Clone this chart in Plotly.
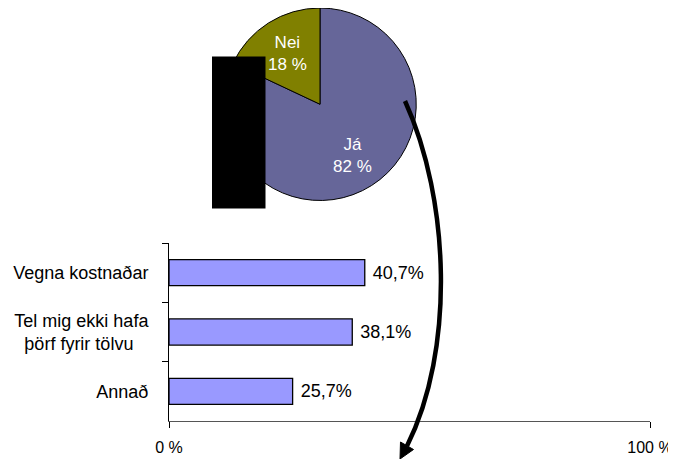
import math
import plotly.graph_objects as go

# The page body adds an 8px offset, so the figure is sized to fill the rest of the window.
OX, OY = 8, 8
W, H = 676 - OX, 459 - OY

# ---- data ----
pie_labels = ["Já", "Nei"]
pie_values = [82, 18]
pie_colors = ["#666699", "#808000"]

bar_categories = ["Vegna kostnaðar", "Tel mig ekki hafa<br>þörf fyrir tölvu\u00a0\u00a0\u00a0", "Annað"]
bar_values = [40.7, 38.1, 25.7]
x_tickvals = [0, 100]
x_ticktext = ["0 %", "100 %"]

FONT = "Arial, Liberation Sans, sans-serif"


def px(x, y):
    """window pixel -> paper fraction (clamped)"""
    a = min(max((x - OX) / W, 0), 1)
    b = min(max(1 - (y - OY) / H, 0), 1)
    return a, b


def pt(x, y):
    a, b = px(x, y)
    return f"{a:.5f},{b:.5f}"


fig = go.Figure()

PIE_L, PIE_R, PIE_T, PIE_B = 223, 417, 8, 200.5
pl, pb = px(PIE_L, PIE_B)
pr, ptop = px(PIE_R, PIE_T)
fig.add_trace(go.Pie(
    labels=pie_labels,
    values=pie_values,
    sort=False,
    direction="clockwise",
    rotation=0,
    marker=dict(colors=pie_colors, line=dict(color="#000000", width=1)),
    textinfo="none",
    domain=dict(x=[pl, pr], y=[pb, ptop]),
    showlegend=False,
    hoverinfo="skip",
))

# pie slice labels, placed along each slice's mid-angle (derived from the values)
cx, cy = (PIE_L + PIE_R) / 2, (PIE_T + PIE_B) / 2
R = min(PIE_R - PIE_L, PIE_B - PIE_T) / 2
total = sum(pie_values)
acc = 0
annotations = []
for lab, val in zip(pie_labels, pie_values):
    mid = (acc + val / 2) / total * 2 * math.pi
    acc += val
    tx = cx + 0.63 * R * math.sin(mid)
    ty = cy - 0.63 * R * math.cos(mid)
    ax_, ay_ = px(tx, ty)
    annotations.append(dict(
        x=ax_, y=ay_, xref="paper", yref="paper",
        text=f"{lab}<br>{val} %", showarrow=False,
        xanchor="center", yanchor="middle",
        font=dict(color="white", size=17, family=FONT),
    ))

fig.add_trace(go.Bar(
    y=bar_categories,
    x=bar_values,
    orientation="h",
    width=0.44,
    marker=dict(color="#9999FF", line=dict(color="#000000", width=1.3)),
    texttemplate=" %{x:.1f}%",
    textposition="outside",
    textfont=dict(color="black", size=18, family=FONT),
    cliponaxis=False,
    showlegend=False,
    hoverinfo="skip",
))

x0, y1 = px(169, 421)
x1, y0 = px(650, 243)

rx0, ry0 = px(212, 208.5)
rx1, ry1 = px(265.5, 56.5)

fig.update_layout(
    template="none",
    width=W, height=H,
    autosize=False,
    margin=dict(l=0, r=0, t=0, b=0, pad=0),
    paper_bgcolor="white",
    plot_bgcolor="white",
    separators=",.",
    font=dict(family=FONT, size=18, color="black"),
    annotations=annotations,
    xaxis=dict(
        domain=[x0, x1],
        range=[0, 100],
        tickvals=x_tickvals,
        ticktext=x_ticktext,
        showgrid=False,
        zeroline=False,
        showline=True,
        linecolor="#555555",
        linewidth=1,
        ticks="outside",
        ticklen=6,
        tickcolor="#000000",
        ticklabelstandoff=6,
        tickfont=dict(size=16, family=FONT),
        automargin=False,
        fixedrange=True,
    ),
    yaxis=dict(
        domain=[y1, y0],
        range=[2.5, -0.5],
        type="category",
        showgrid=False,
        zeroline=False,
        showline=True,
        linecolor="#000000",
        linewidth=1,
        ticks="outside",
        tickson="boundaries",
        ticklen=6,
        tickcolor="#000000",
        ticklabelstandoff=16,
        tickfont=dict(size=18, family=FONT),
        automargin=False,
        fixedrange=True,
    ),
    shapes=[
        # redaction box
        dict(type="rect", xref="paper", yref="paper",
             x0=rx0, x1=rx1, y0=ry0, y1=ry1,
             fillcolor="#000000", line=dict(width=0), layer="above"),
        # curved arrow
        dict(type="path", xref="paper", yref="paper",
             path=f"M {pt(405,101)} C {pt(450,200)} {pt(455,350)} {pt(407,446)}",
             line=dict(color="#000000", width=4.5), layer="above"),
        dict(type="path", xref="paper", yref="paper",
             path=f"M {pt(400,459)} L {pt(413.5,449.5)} L {pt(400.5,442)} Z",
             fillcolor="#000000", line=dict(color="#000000", width=1), layer="above"),
    ],
)

fig.write_html("out.html")
